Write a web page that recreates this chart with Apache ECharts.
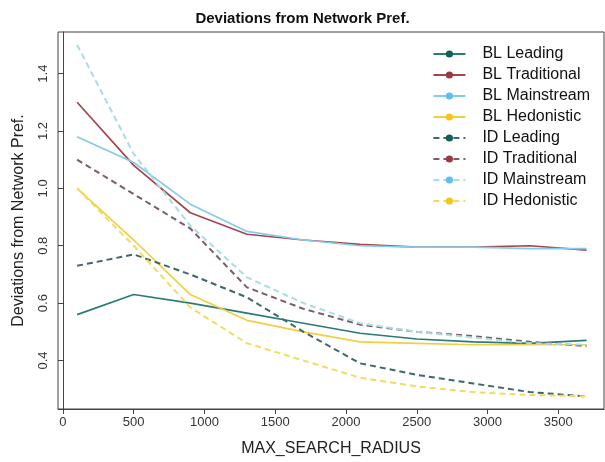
<!DOCTYPE html>
<html lang="en">
<head>
	<meta charset="UTF-8">
	<title>Deviations from Network Pref.</title>
	<style type="text/css">
		html, body { margin: 0; padding: 0; background: #fff; }
		#a { width: 605px; height: 462px; }
	</style>
</head>
<body>
	<div id="a"></div>
	<script type="text/javascript" src="https://cdn.jsdelivr.net/npm/echarts@6/dist/echarts.min.js"></script>
	<script type="text/javascript">
		// x positions (MAX_SEARCH_RADIUS)
		var radius = [100, 500, 900, 1300, 1700, 2100, 2500, 2900, 3300, 3700];
		var xTicks = [0, 500, 1000, 1500, 2000, 2500, 3000, 3500];
		var yTicks = [0.4, 0.6, 0.8, 1.0, 1.2, 1.4];

		// values
		var blLeading     = [0.56, 0.63, 0.60, 0.565, 0.53, 0.495, 0.475, 0.465, 0.46, 0.47];
		var blTraditional = [1.30, 1.08, 0.915, 0.84, 0.82, 0.805, 0.795, 0.795, 0.80, 0.785];
		var blMainstream  = [1.18, 1.09, 0.945, 0.85, 0.82, 0.80, 0.795, 0.795, 0.79, 0.79];
		var blHedonistic  = [1.00, 0.82, 0.63, 0.54, 0.50, 0.465, 0.46, 0.455, 0.455, 0.455];
		var idLeading     = [0.73, 0.77, 0.70, 0.62, 0.50, 0.39, 0.35, 0.32, 0.29, 0.275];
		var idTraditional = [1.10, 0.98, 0.86, 0.655, 0.58, 0.525, 0.50, 0.485, 0.465, 0.45];
		var idMainstream  = [1.50, 1.12, 0.87, 0.69, 0.60, 0.53, 0.50, 0.48, 0.46, 0.455];
		var idHedonistic  = [1.00, 0.80, 0.585, 0.46, 0.40, 0.34, 0.31, 0.29, 0.28, 0.275];

		var names = ['BL Leading', 'BL Traditional', 'BL Mainstream', 'BL Hedonistic',
			'ID Leading', 'ID Traditional', 'ID Mainstream', 'ID Hedonistic'];
		var values = [blLeading, blTraditional, blMainstream, blHedonistic,
			idLeading, idTraditional, idMainstream, idHedonistic];
		// dot colour in legend, line colour
		var dotColors = ['#0f5f5a', '#9c3a44', '#5cbff0', '#f5c518',
			'#0f5f5a', '#9c3a44', '#5cbff0', '#f5c518'];
		var lineColors = ['#2a7a76', '#a3464f', '#86cbe8', '#f0d040',
			'#40676c', '#7c5b6a', '#a9dde2', '#f2dc60'];

		var font = 'Liberation Sans, Arial, sans-serif';

		var series = names.map(function (n, i) {
			var dashed = i >= 4;
			return {
				name: n,
				type: 'line',
				symbol: 'circle',
				symbolSize: 8,
				showSymbol: false,
				data: radius.map(function (r, k) { return [r, values[i][k]]; }),
				itemStyle: { color: dotColors[i] },
				lineStyle: {
					color: lineColors[i],
					width: dashed ? 2 : 1.7,
					type: dashed ? [6, 4] : 'solid'
				},
				emphasis: { disabled: true }
			};
		});

		var myChart = echarts.init(document.getElementById('a'));
		var option = {
			animation: false,
			backgroundColor: '#fff',
			title: {
				text: 'Deviations from Network Pref.',
				left: 'center',
				top: 6,
				textStyle: { fontFamily: font, fontSize: 15, fontWeight: 'bold', color: '#111' }
			},
			grid: {
				left: 58, right: 1, top: 32, bottom: 49,
				show: true, borderColor: '#444', borderWidth: 1
			},
			legend: {
				data: names,
				orient: 'vertical',
				right: 10,
				top: 41,
				itemWidth: 32,
				itemHeight: 9,
				itemGap: 5,
				textStyle: { fontFamily: font, fontSize: 16, color: '#111', padding: [0, 0, 0, 12], lineHeight: 16 }
			},
			xAxis: {
				type: 'value',
				min: -35,
				max: 3823,
				name: 'MAX_SEARCH_RADIUS',
				nameLocation: 'middle',
				nameGap: 32,
				nameTextStyle: { fontFamily: font, fontSize: 16, color: '#222' },
				splitLine: { show: false },
				axisLine: { lineStyle: { color: '#444' } },
				axisTick: { customValues: xTicks, length: 5, lineStyle: { color: '#444' } },
				axisLabel: {
					customValues: xTicks, fontFamily: font, fontSize: 13, color: '#333', margin: 7,
					formatter: function (v) { return String(v); }
				}
			},
			yAxis: {
				type: 'value',
				min: 0.231,
				max: 1.545,
				name: 'Deviations from Network Pref.',
				nameLocation: 'middle',
				nameGap: 31,
				nameTextStyle: { fontFamily: font, fontSize: 16, color: '#222' },
				splitLine: { show: false },
				axisLine: { show: true, lineStyle: { color: '#444' } },
				axisTick: { show: true, customValues: yTicks, length: 5, lineStyle: { color: '#444' } },
				axisLabel: {
					customValues: yTicks, rotate: 90, fontFamily: font, fontSize: 13, color: '#333', margin: 8,
					formatter: function (v) { return v.toFixed(1); }
				}
			},
			series: series
		};
		myChart.setOption(option);
	</script>
</body>
</html>
